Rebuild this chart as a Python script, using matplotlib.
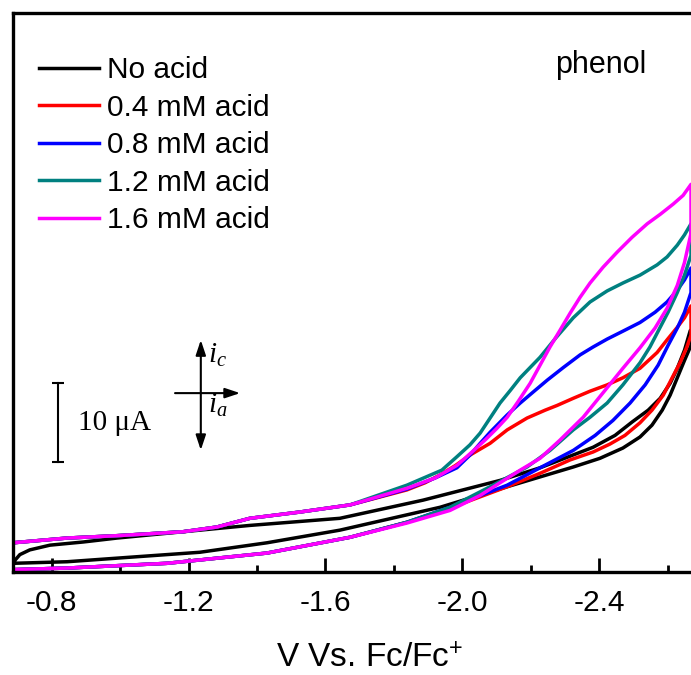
import matplotlib
matplotlib.use("Agg")
import matplotlib.pyplot as plt
import numpy as np
from matplotlib.ticker import MultipleLocator, FormatStrFormatter

plt.rcParams['font.family'] = ['Liberation Sans', 'DejaVu Sans']
plt.rcParams['axes.unicode_minus'] = False
plt.rcParams['mathtext.fontset'] = 'custom'
plt.rcParams['mathtext.rm'] = 'Liberation Sans'
plt.rcParams['mathtext.it'] = 'Liberation Serif:italic'

# potential (V vs Fc/Fc+) and current (uA) for the forward and return sweeps
labels = ['No acid', '0.4 mM acid', '0.8 mM acid', '1.2 mM acid', '1.6 mM acid']
colors = ['#000000', '#ff0000', '#0000ff', '#008080', '#ff00ff']

black_fwd_v = [-0.687, -0.693, -0.707, -0.736, -0.795, -0.892, -0.991, -1.184, -1.379, -1.642,
               -1.885, -2.110, -2.227, -2.382, -2.446, -2.496, -2.543, -2.578, -2.607, -2.628,
               -2.649, -2.666]
black_fwd_i = [1.1, 1.5, 2.2, 2.8, 3.4, 3.8, 4.3, 5.1, 5.9, 6.8,
               9.1, 11.6, 13.2, 15.8, 17.3, 19.0, 20.5, 22.0, 23.9, 25.8,
               28.1, 30.6]
black_rev_v = [-0.687, -0.845, -1.038, -1.233, -1.429, -1.642, -1.935, -2.131, -2.324, -2.402,
               -2.469, -2.519, -2.554, -2.584, -2.607, -2.628, -2.649, -2.668]
black_rev_i = [1.1, 1.3, 1.9, 2.5, 3.7, 5.3, 8.2, 10.8, 13.3, 14.4,
               15.7, 17.1, 18.6, 20.5, 22.4, 24.6, 26.8, 28.7]

# shared low-potential part of the acid scans
acid_fwd_v = [-0.687, -0.845, -0.991, -1.184, -1.283, -1.379, -1.526, -1.672]
acid_fwd_i = [3.7, 4.3, 4.6, 5.1, 5.7, 6.8, 7.6, 8.5]
acid_rev_v = [-0.687, -0.845, -1.137, -1.429, -1.672]
acid_rev_i = [0.3, 0.5, 1.1, 2.4, 4.4]

red_fwd_v = [-1.838, -1.891, -1.935, -1.980, -2.022, -2.081, -2.131, -2.189, -2.242, -2.277,
             -2.324, -2.373, -2.423, -2.469, -2.519, -2.569, -2.598, -2.628, -2.649, -2.668]
red_fwd_i = [10.4, 11.3, 12.3, 13.5, 14.8, 16.3, 18.0, 19.5, 20.5, 21.1,
             22.0, 22.9, 23.7, 24.6, 25.8, 27.8, 29.4, 31.0, 32.2, 33.7]
red_rev_v = [-1.838, -1.964, -2.131, -2.227, -2.315, -2.382, -2.431, -2.475, -2.519, -2.554,
             -2.587, -2.613, -2.637, -2.655, -2.668]
red_rev_i = [6.3, 8.1, 10.8, 12.5, 14.2, 15.2, 16.2, 17.3, 18.9, 20.5,
             22.4, 24.6, 26.6, 28.4, 30.0]

blue_fwd_v = [-1.838, -1.920, -1.984, -2.022, -2.052, -2.081, -2.131, -2.169, -2.207, -2.248,
              -2.295, -2.344, -2.382, -2.423, -2.469, -2.519, -2.563, -2.598, -2.628, -2.649,
              -2.668]
blue_fwd_i = [10.5, 11.9, 13.2, 14.8, 16.3, 17.7, 19.9, 21.4, 22.8, 24.3,
              25.9, 27.5, 28.5, 29.5, 30.5, 31.6, 32.9, 34.2, 35.7, 37.0,
              38.5]
blue_rev_v = [-1.838, -1.964, -2.131, -2.227, -2.324, -2.388, -2.440, -2.490, -2.534, -2.572,
              -2.601, -2.628, -2.649, -2.668]
blue_rev_i = [6.3, 8.2, 11.0, 13.2, 15.4, 17.3, 19.2, 21.4, 23.7, 26.2,
              28.7, 30.9, 32.9, 35.4]

teal_fwd_v = [-1.838, -1.940, -1.984, -2.022, -2.052, -2.081, -2.110, -2.140, -2.169, -2.198,
              -2.227, -2.274, -2.324, -2.373, -2.423, -2.469, -2.519, -2.569, -2.598, -2.628,
              -2.649, -2.668]
teal_fwd_i = [11.0, 12.9, 14.6, 16.1, 17.6, 19.5, 21.4, 23.0, 24.6, 25.9,
              27.2, 29.7, 32.2, 34.2, 35.6, 36.6, 37.6, 38.9, 39.9, 41.4,
              42.7, 44.1]
teal_rev_v = [-1.838, -1.964, -2.081, -2.189, -2.256, -2.324, -2.373, -2.423, -2.469, -2.519,
              -2.548, -2.578, -2.601, -2.628, -2.649, -2.668]
teal_rev_i = [6.3, 8.2, 10.8, 13.3, 15.4, 18.0, 19.6, 21.4, 23.7, 26.5,
              28.5, 31.0, 32.9, 35.4, 37.6, 40.1]

magenta_fwd_v = [-1.838, -1.920, -1.984, -2.028, -2.066, -2.101, -2.131, -2.163, -2.198, -2.227,
                 -2.256, -2.285, -2.315, -2.344, -2.373, -2.411, -2.452, -2.496, -2.540, -2.578,
                 -2.616, -2.645, -2.668]
magenta_fwd_i = [10.6, 11.9, 13.5, 15.2, 16.7, 18.2, 19.6, 21.6, 23.9, 26.2,
                 28.5, 30.6, 32.8, 34.8, 36.6, 38.6, 40.5, 42.4, 44.1, 45.3,
                 46.6, 47.7, 49.1]
magenta_rev_v = [-1.838, -1.964, -2.052, -2.110, -2.169, -2.227, -2.285, -2.353, -2.411, -2.469,
                 -2.519, -2.563, -2.598, -2.628, -2.649, -2.668]
magenta_rev_i = [6.2, 7.8, 9.7, 11.3, 12.9, 14.4, 16.7, 19.6, 22.7, 25.8,
                 28.4, 30.9, 33.4, 36.3, 39.2, 42.9]


def loop(fv, fi, rv, ri):
    # forward sweep out, then the return sweep back
    v = np.concatenate([fv, rv[::-1]])
    i = np.concatenate([fi, ri[::-1]])
    return v, i


scans = [
    (black_fwd_v, black_fwd_i, black_rev_v, black_rev_i),
    (acid_fwd_v + red_fwd_v, acid_fwd_i + red_fwd_i, acid_rev_v + red_rev_v, acid_rev_i + red_rev_i),
    (acid_fwd_v + blue_fwd_v, acid_fwd_i + blue_fwd_i, acid_rev_v + blue_rev_v, acid_rev_i + blue_rev_i),
    (acid_fwd_v + teal_fwd_v, acid_fwd_i + teal_fwd_i, acid_rev_v + teal_rev_v, acid_rev_i + teal_rev_i),
    (acid_fwd_v + magenta_fwd_v, acid_fwd_i + magenta_fwd_i,
     acid_rev_v + magenta_rev_v, acid_rev_i + magenta_rev_i),
]

fig = plt.figure(figsize=(6.91, 6.75), dpi=100)
ax = fig.add_axes([13 / 691, 103 / 675, 678 / 691, 559 / 675])

for (fv, fi, rv, ri), c, lab in zip(scans, colors, labels):
    v, i = loop(np.array(fv), np.array(fi), np.array(rv), np.array(ri))
    ax.plot(v, i, color=c, lw=2.5, label=lab, solid_joinstyle='round')

ax.set_xlim(-0.687, -2.668)
ax.set_ylim(0, 70.8)
ax.set_yticks([])
ax.xaxis.set_major_locator(MultipleLocator(0.4))
ax.xaxis.set_minor_locator(MultipleLocator(0.2))
ax.xaxis.set_major_formatter(FormatStrFormatter('%.1f'))
ax.tick_params(axis='x', which='major', direction='in', length=10, width=2,
               labelsize=21.5, pad=12)
ax.tick_params(axis='x', which='minor', direction='in', length=5, width=2)
for side in ['left', 'top', 'bottom']:
    ax.spines[side].set_linewidth(2.4)
ax.spines['right'].set_visible(False)

fig.text(370 / 691, 2 / 675, 'V Vs. Fc/Fc$^{+}$', fontsize=24, ha='center', va='bottom')

ax.legend(loc='upper left', bbox_to_anchor=(0.039, 0.923), frameon=False, fontsize=21.5,
          handlelength=2.0, handletextpad=0.27, labelspacing=0.32, borderpad=0,
          borderaxespad=0)

ax.text(0.799, 0.893, 'phenol', transform=ax.transAxes, fontsize=22, va='baseline')

# 10 uA scale bar
bar_v = -0.818
bar_i0 = 13.9
bar_len = 10
ax.plot([bar_v, bar_v], [bar_i0, bar_i0 + bar_len], color='k', lw=1.5)
ax.plot([bar_v, bar_v], [bar_i0, bar_i0 + bar_len], color='k', ls='none',
        marker='_', markersize=9, mew=1.5)
ax.text(-0.877, bar_i0 + bar_len / 2, '10 \u03bcA', fontsize=21, va='center',
        family='Liberation Serif')

# current direction arrows
head = '-|>,head_length=0.6,head_width=0.2'
ax.annotate('', xy=(0.277, 0.415), xytext=(0.277, 0.218), xycoords='axes fraction',
            arrowprops=dict(arrowstyle='<|-|>,head_length=0.6,head_width=0.2', lw=1.5,
                            color='k', mutation_scale=15, shrinkA=0, shrinkB=0))
ax.annotate('', xy=(0.335, 0.320), xytext=(0.239, 0.320), xycoords='axes fraction',
            arrowprops=dict(arrowstyle=head, lw=1.5, color='k', mutation_scale=15,
                            shrinkA=0, shrinkB=0))
ax.text(0.288, 0.374, '$i_c$', transform=ax.transAxes, fontsize=21, va='baseline')
ax.text(0.288, 0.284, '$i_a$', transform=ax.transAxes, fontsize=21, va='baseline')

fig.savefig('out.png', dpi=100)
